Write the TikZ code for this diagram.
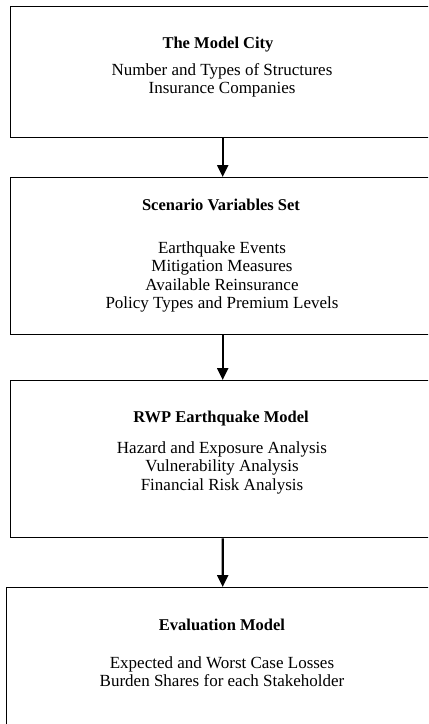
\documentclass[tikz,border=0pt]{standalone}
\usepackage{fontspec}
\setmainfont{Liberation Serif}
\usetikzlibrary{arrows.meta}
\begin{document}
\begin{tikzpicture}[x=1bp,y=-1bp,
  box/.style={draw=black, line width=1.4bp, rectangle, inner sep=0pt, anchor=north west},
  ttl/.style={anchor=base, inner sep=0pt, font=\fontsize{16.5bp}{18bp}\selectfont\bfseries},
  itm/.style={anchor=base, inner sep=0pt, font=\fontsize{17bp}{18bp}\selectfont},
  flow/.style={line width=2.2bp, -{Triangle[length=12bp,width=11bp]}}]
\path[use as bounding box, fill=white] (0,0) rectangle (428,724);
\clip (0,0) rectangle (428,724);
% boxes
\node[box, minimum width=424bp, minimum height=131bp] (b1) at (10,6) {};
\node[box, minimum width=424bp, minimum height=157bp] (b2) at (10,177) {};
\node[box, minimum width=424bp, minimum height=157bp] (b3) at (10,380) {};
\node[box, minimum width=432bp, minimum height=200bp] (b4) at (6,587) {};
% arrows
\draw[flow] (b1.south) -- (b2.north);
\draw[flow] (b2.south) -- (b3.north);
\draw[flow] (b3.south) -- (b4.north);
% box 1
\node[ttl] (t1) at (218,49) {The Model City};
\node[itm] (t1a) at (222,76) {Number and Types of Structures};
\node[itm] (t1b) at (222,94) {Insurance Companies};
% box 2
\node[ttl] (t2) at (221,210) {Scenario Variables Set};
\node[itm] (t2a) at (222,253) {Earthquake Events};
\node[itm] (t2b) at (222,271) {Mitigation Measures};
\node[itm] (t2c) at (222,290) {Available Reinsurance};
\node[itm] (t2d) at (222,308) {Policy Types and Premium Levels};
% box 3
\node[ttl] (t3) at (221,422) {RWP Earthquake Model};
\node[itm] (t3a) at (222,453) {Hazard and Exposure Analysis};
\node[itm] (t3b) at (222,471) {Vulnerability Analysis};
\node[itm] (t3c) at (222,490) {Financial Risk Analysis};
% box 4
\node[ttl] (t4) at (222,630) {Evaluation Model};
\node[itm] (t4a) at (222,668) {Expected and Worst Case Losses};
\node[itm] (t4b) at (222,686) {Burden Shares for each Stakeholder};
\end{tikzpicture}
\end{document}
